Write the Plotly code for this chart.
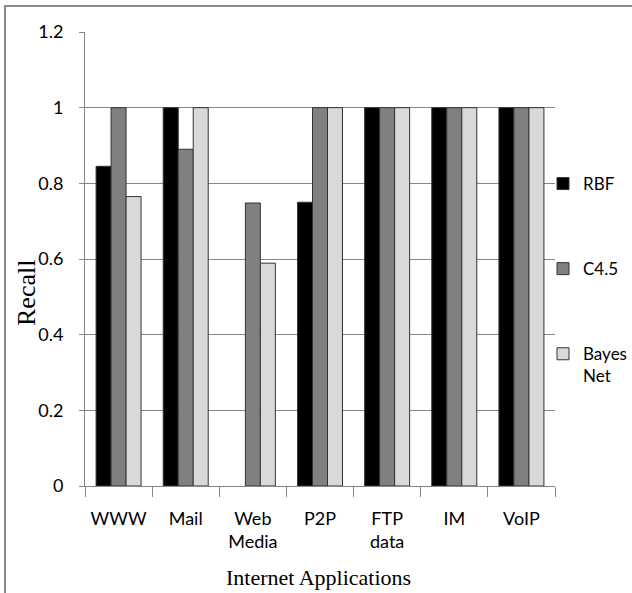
import plotly.graph_objects as go

categories = ["WWW", "Mail", "Web<br>Media", "P2P", "FTP<br>data", "IM", "VoIP"]
rbf = [0.845, 1.0, 0.0, 0.75, 1.0, 1.0, 1.0]
c45 = [1.0, 0.89, 0.748, 1.0, 1.0, 1.0, 1.0]
bayes = [0.765, 1.0, 0.589, 1.0, 1.0, 1.0, 1.0]
series_names = ["RBF", "C4.5", "Bayes<br>Net"]
series_colors = ["#000000", "#808080", "#d9d9d9"]
y_ticks = [0, 0.2, 0.4, 0.6, 0.8, 1.0, 1.2]

W, H = 632, 593
L, R, T, B = 85, 77, 32, 107
pw, ph = W - L - R, H - T - B

def px_x(p):
    return (p - L) / pw

def px_y(p):
    return (H - B - p) / ph

fig = go.Figure()
for i, (name, vals, col) in enumerate(zip(series_names, [rbf, c45, bayes], series_colors)):
    fig.add_trace(go.Bar(
        x=categories, y=vals, name=name, legendgroup=f"g{i}",
        marker=dict(color=col,
                    line=dict(color="#333333", width=[0 if v == 0 else 1 for v in vals])),
    ))

fig.update_layout(
    width=W, height=H,
    margin=dict(l=L, r=R, t=T, b=B, autoexpand=False),
    paper_bgcolor="white", plot_bgcolor="white",
    barmode="group", bargap=0.33, bargroupgap=0,
    font=dict(family="Lato, Carlito, sans-serif", size=18, color="black"),
    legend=dict(
        x=px_x(543), y=px_y(166), xanchor="left", yanchor="top",
        font=dict(size=17, family="Lato, sans-serif"),
        tracegroupgap=60, traceorder="grouped", valign="top",
        bgcolor="rgba(0,0,0,0)", itemwidth=30,
    ),
    xaxis=dict(
        type="category", showline=True, linecolor="#868686", linewidth=1,
        ticks="outside", tickson="boundaries", ticklen=10, tickcolor="#868686",
        showgrid=False, tickfont=dict(size=18), ticklabelstandoff=16,
    ),
    yaxis=dict(
        range=[0, 1.2], tickvals=y_ticks, showline=True, linecolor="#868686",
        linewidth=1, ticks="outside", ticklen=5, tickcolor="#868686",
        showgrid=True, gridcolor="#868686", gridwidth=1, zeroline=False,
        tickfont=dict(size=18), ticklabelstandoff=12,
    ),
    annotations=[
        dict(text="Recall", xref="paper", yref="paper", x=px_x(26), y=px_y(293),
             showarrow=False, textangle=-90, xanchor="center", yanchor="middle",
             font=dict(family="Liberation Serif, Times New Roman, serif", size=26, color="black")),
        dict(text="Internet Applications", xref="paper", yref="paper", x=px_x(318), y=px_y(577),
             showarrow=False, xanchor="center", yanchor="middle",
             font=dict(family="Liberation Serif, Times New Roman, serif", size=22, color="black")),
    ],
    shapes=[
        dict(type="rect", xref="paper", yref="paper",
             x0=px_x(5), x1=px_x(645), y0=px_y(610), y1=px_y(6),
             line=dict(color="#8a8a8a", width=2), fillcolor="rgba(0,0,0,0)", layer="above"),
    ],
)

fig.write_html("out.html", config={"displayModeBar": False},
               post_script="document.body.style.margin='0';document.body.style.padding='0';")
